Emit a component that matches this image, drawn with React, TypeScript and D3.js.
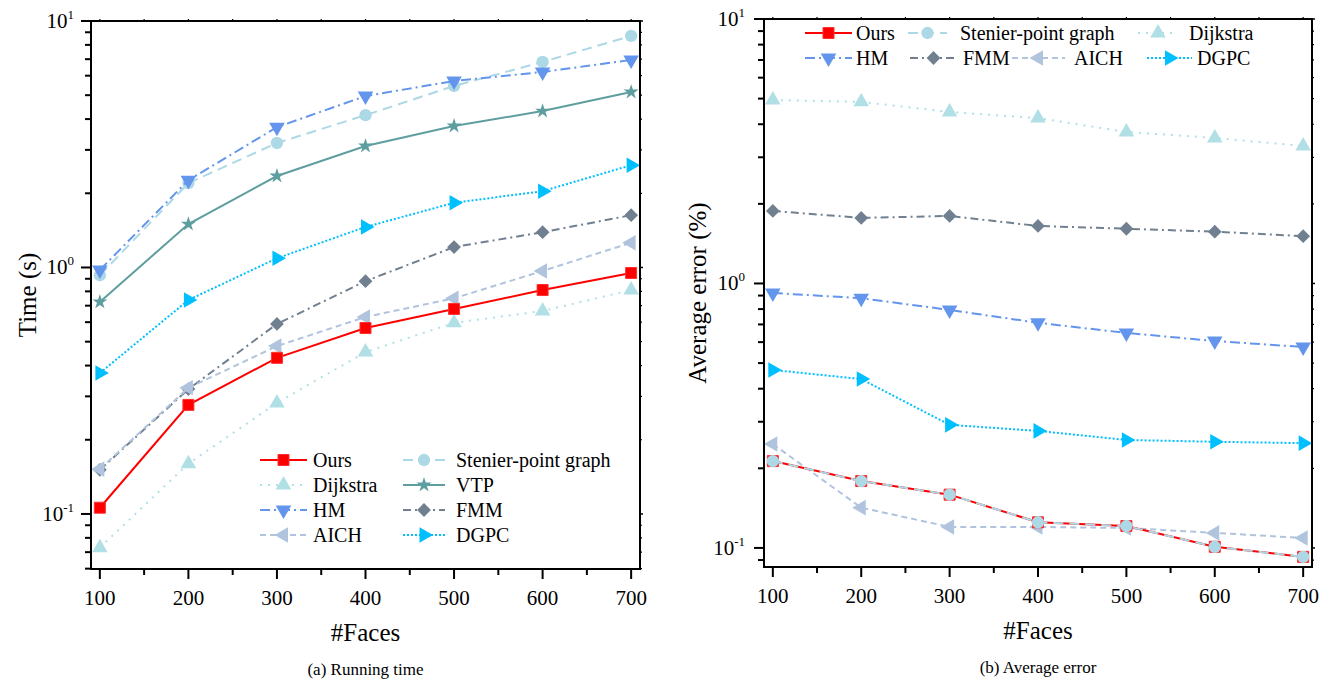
import React from "react";
import * as d3 from "d3";

const faces = [100, 200, 300, 400, 500, 600, 700];

// (a) Running time (s)
const timeOurs = [0.106, 0.277, 0.43, 0.568, 0.679, 0.81, 0.95];
const timeStenier = [0.93, 2.2, 3.2, 4.15, 5.45, 6.82, 8.7];
const timeDijkstra = [0.073, 0.16, 0.282, 0.454, 0.596, 0.666, 0.81];
const timeVTP = [0.725, 1.5, 2.35, 3.11, 3.75, 4.31, 5.15];
const timeHM = [0.977, 2.26, 3.71, 4.96, 5.71, 6.21, 6.95];
const timeFMM = [0.151, 0.321, 0.59, 0.88, 1.21, 1.39, 1.63];
const timeAICH = [0.152, 0.325, 0.48, 0.63, 0.75, 0.968, 1.26];
const timeDGPC = [0.373, 0.738, 1.09, 1.46, 1.83, 2.04, 2.6];

// (b) Average error (%)
const errOurs = [0.213, 0.179, 0.159, 0.125, 0.121, 0.101, 0.0925];
const errStenier = [0.213, 0.179, 0.159, 0.125, 0.121, 0.101, 0.0925];
const errDijkstra = [4.94, 4.86, 4.45, 4.22, 3.74, 3.55, 3.31];
const errHM = [0.92, 0.88, 0.794, 0.71, 0.65, 0.606, 0.575];
const errFMM = [1.88, 1.77, 1.8, 1.65, 1.61, 1.57, 1.51];
const errAICH = [0.247, 0.142, 0.12, 0.12, 0.119, 0.114, 0.109];
const errDGPC = [0.471, 0.435, 0.292, 0.277, 0.256, 0.252, 0.249];

const yTicksA = [0.1, 1, 10];
const yTicksB = [0.1, 1, 10];
const xTicks = [100, 200, 300, 400, 500, 600, 700];

type Style = { name: string; color: string; dash: string; marker: string; rot: number };
const styles: Record<string, Style> = {
  Ours: { name: "Ours", color: "#ff0000", dash: "", marker: "square", rot: 0 },
  Stenier: { name: "Stenier-point graph", color: "#add8e6", dash: "10,6", marker: "circle", rot: 0 },
  Dijkstra: { name: "Dijkstra", color: "#b0e0e6", dash: "2,6", marker: "triangle", rot: 0 },
  VTP: { name: "VTP", color: "#5f9ea0", dash: "", marker: "star", rot: 0 },
  HM: { name: "HM", color: "#6495ed", dash: "10,4,2,4", marker: "triangle", rot: 180 },
  FMM: { name: "FMM", color: "#708090", dash: "8,4,2,4", marker: "diamond", rot: 45 },
  AICH: { name: "AICH", color: "#b0c4de", dash: "6,4", marker: "triangle", rot: -90 },
  DGPC: { name: "DGPC", color: "#00bfff", dash: "2,2", marker: "triangle", rot: 90 },
};

const seriesA: [string, number[]][] = [
  ["Dijkstra", timeDijkstra],
  ["Stenier", timeStenier],
  ["VTP", timeVTP],
  ["HM", timeHM],
  ["FMM", timeFMM],
  ["AICH", timeAICH],
  ["DGPC", timeDGPC],
  ["Ours", timeOurs],
];
const seriesB: [string, number[]][] = [
  ["Dijkstra", errDijkstra],
  ["HM", errHM],
  ["FMM", errFMM],
  ["AICH", errAICH],
  ["DGPC", errDGPC],
  ["Ours", errOurs],
  ["Stenier", errStenier],
];

const legendA = ["Ours", "Stenier", "Dijkstra", "VTP", "HM", "FMM", "AICH", "DGPC"];
const legendB = ["Ours", "Stenier", "Dijkstra", "HM", "FMM", "AICH", "DGPC"];

const FONT = "'Liberation Serif', 'DejaVu Serif', serif";

function symbolPath(marker: string) {
  const t: Record<string, [d3.SymbolType, number]> = {
    square: [d3.symbolSquare, 121],
    circle: [d3.symbolCircle, 120],
    triangle: [d3.symbolTriangle, 105],
    star: [d3.symbolStar, 70],
    diamond: [d3.symbolSquare, 95],
  };
  const [type, size] = t[marker];
  return d3.symbol().type(type).size(size)() as string;
}

function Marker({ s, x, y }: { s: Style; x: number; y: number }) {
  return (
    <path
      d={symbolPath(s.marker)}
      transform={`translate(${x},${y}) rotate(${s.rot})`}
      fill={s.color}
      stroke={s.marker === "square" ? "#ff3030" : "none"}
      strokeWidth={1}
    />
  );
}

function Panel(props: {
  x0: number; x1: number; y0: number; y1: number;
  yDomain: [number, number]; yTicks: number[];
  series: [string, number[]][]; yTitle: string; caption: string;
  yTitleX: number; labelGap: number;
  legend: { key: string; sx: number; tx: number; y: number; w: number }[];
}) {
  const { x0, x1, y0, y1 } = props;
  const x = d3.scaleLinear().domain([90, 710]).range([x0, x1]);
  const y = d3.scaleLog().domain(props.yDomain).range([y1, y0]);
  const line = d3.line<number>().x((_, i) => x(faces[i])).y((d) => y(d));
  const minor: number[] = [];
  for (let e = -2; e <= 1; e++) {
    for (let m = 2; m <= 9; m++) {
      const v = m * Math.pow(10, e);
      if (v >= props.yDomain[0] && v <= props.yDomain[1]) minor.push(v);
    }
  }
  const xMinor = d3.range(150, 710, 100);
  const cx = (x0 + x1) / 2;
  const cy = (y0 + y1) / 2;
  return (
    <g fontFamily={FONT}>
      {props.series.map(([k, vals]) => {
        const s = styles[k];
        return (
          <g key={k}>
            <path d={line(vals) as string} fill="none" stroke={s.color} strokeWidth={2} strokeDasharray={s.dash} />
            {vals.map((v, i) => (
              <Marker key={i} s={s} x={x(faces[i])} y={y(v)} />
            ))}
          </g>
        );
      })}
      {/* frame */}
      <rect x={x0} y={y0} width={x1 - x0} height={y1 - y0} fill="none" stroke="#000" strokeWidth={2} />
      {/* y ticks */}
      {props.yTicks.map((t) => (
        <g key={t}>
          <line x1={x0 - 10} x2={x0} y1={y(t)} y2={y(t)} stroke="#000" strokeWidth={2} />
          <line x1={x1} x2={x1 + 3} y1={y(t)} y2={y(t)} stroke="#000" strokeWidth={1.5} />
          <text x={x0 - props.labelGap} y={y(t) + 7} textAnchor="end" fontSize={21}>
            10<tspan dy={-9} fontSize={13}>{Math.round(Math.log10(t))}</tspan>
          </text>
        </g>
      ))}
      {minor.map((t) => (
        <g key={t}>
          <line x1={x0 - 6} x2={x0} y1={y(t)} y2={y(t)} stroke="#000" strokeWidth={2} />
          <line x1={x1} x2={x1 + 2} y1={y(t)} y2={y(t)} stroke="#000" strokeWidth={1.2} />
        </g>
      ))}
      {/* x ticks */}
      {xTicks.map((t) => (
        <g key={t}>
          <line x1={x(t)} x2={x(t)} y1={y1} y2={y1 + 10} stroke="#000" strokeWidth={2} />
          <line x1={x(t)} x2={x(t)} y1={y0} y2={y0 - 2} stroke="#000" strokeWidth={1.2} />
          <text x={x(t)} y={y1 + 36} textAnchor="middle" fontSize={21}>{t}</text>
        </g>
      ))}
      {xMinor.map((t) => (
        <g key={t}>
          <line x1={x(t)} x2={x(t)} y1={y1} y2={y1 + 6} stroke="#000" strokeWidth={2} />
          <line x1={x(t)} x2={x(t)} y1={y0} y2={y0 - 2} stroke="#000" strokeWidth={1.2} />
        </g>
      ))}
      <text x={cx} y={y1 + 72} textAnchor="middle" fontSize={25}>#Faces</text>
      <text transform={`translate(${props.yTitleX},${cy}) rotate(-90)`} textAnchor="middle" fontSize={25}>
        {props.yTitle}
      </text>
      <text x={cx} y={y1 + 106} textAnchor="middle" fontSize={17}>{props.caption}</text>
      {/* legend */}
      {props.legend.map((l) => {
        const s = styles[l.key];
        return (
          <g key={l.key}>
            <line x1={l.sx} x2={l.sx + l.w} y1={l.y} y2={l.y} stroke={s.color} strokeWidth={2} strokeDasharray={s.dash} />
            <Marker s={s} x={l.sx + l.w / 2} y={l.y} />
            <text x={l.tx} y={l.y + 6.5} fontSize={20}>{s.name}</text>
          </g>
        );
      })}
    </g>
  );
}

export default function App() {
  const rowsA = [460, 485, 510, 535];
  const legA = legendA.map((k, i) => {
    const col = i % 2;
    const row = Math.floor(i / 2);
    return col === 0
      ? { key: k, sx: 260, tx: 313, y: rowsA[row], w: 47 }
      : { key: k, sx: 403, tx: 456, y: rowsA[row], w: 42 };
  });
  const posB = [
    [805, 856, 33, 47],
    [908, 960, 33, 39],
    [1138, 1189, 33, 40],
    [805, 856, 58, 47],
    [910, 963, 58, 47],
    [1012, 1074, 58, 53],
    [1147, 1197, 58, 45],
  ];
  const legB = legendB.map((k, i) => ({ key: k, sx: posB[i][0], tx: posB[i][1], y: posB[i][2], w: posB[i][3] }));
  return (
    <svg width={1335} height={687} style={{ position: "absolute", left: 0, top: 0, background: "#fff" }}>
      <rect width={1335} height={687} fill="#fff" />
      <Panel
        x0={91} x1={640} y0={21} y1={569}
        yDomain={[0.0598, 10]} yTicks={yTicksA}
        series={seriesA} yTitle="Time (s)" caption="(a)  Running time"
        yTitleX={36} labelGap={17} legend={legA}
      />
      <Panel
        x0={764} x1={1312} y0={19} y1={567}
        yDomain={[0.0847, 10]} yTicks={yTicksB}
        series={seriesB} yTitle="Average error (%)" caption="(b)  Average error"
        yTitleX={706} labelGap={19} legend={legB}
      />
    </svg>
  );
}
